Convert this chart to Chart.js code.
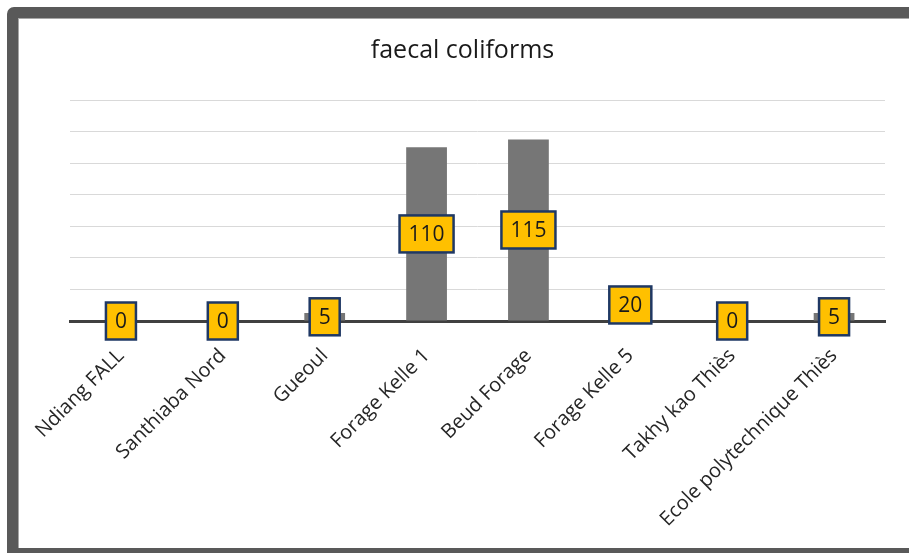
<!DOCTYPE html>
<html lang="en">
<head>
<meta charset="UTF-8">
<title>faecal coliforms</title>
<script src="https://cdn.jsdelivr.net/npm/chart.js"></script>
<style>
  body { margin: 0; background: #fff; width: 909px; height: 553px; overflow: hidden; position: relative; }
  #frame {
    position: absolute; left: 7px; top: 7px; width: 930px; height: 530px;
    border: 11px solid #595959; border-top-left-radius: 7px;
    box-shadow: inset 1px 1px 0 #a6a6a6;
  }
  #myChart { position: absolute; left: 18px; top: 18px; }
</style>
</head>
<body>
  <div id="frame"></div>
  <canvas id="myChart" width="889" height="530"></canvas>

  <script>
    // datos
    const sites = ['Ndiang FALL', 'Santhiaba Nord', 'Gueoul', 'Forage Kelle 1',
                   'Beud Forage', 'Forage Kelle 5', 'Takhy kao Thiès', 'Ecole polytechnique Thiès'];
    const coliforms = [0, 0, 5, 110, 115, 20, 0, 5];
    const yMax = 140;
    const yStep = 20;

    const font = "'Open Sans', sans-serif";

    // etiquetas amarillas centradas en cada barra
    const boxLabels = {
      id: 'boxLabels',
      afterDatasetsDraw(chart) {
        const ctx = chart.ctx;
        const meta = chart.getDatasetMeta(0);
        ctx.save();
        ctx.font = '21px ' + font;
        ctx.textAlign = 'center';
        ctx.textBaseline = 'middle';
        meta.data.forEach((bar, i) => {
          const txt = String(coliforms[i]);
          const cx = bar.x;
          const cy = (bar.y + bar.base) / 2;
          const w = ctx.measureText(txt).width + 18;
          const h = 37;
          ctx.fillStyle = '#ffc000';
          ctx.fillRect(cx - w / 2, cy - h / 2, w, h);
          ctx.lineWidth = 2.5;
          ctx.strokeStyle = '#1f3864';
          ctx.strokeRect(cx - w / 2, cy - h / 2, w, h);
          ctx.fillStyle = '#1a1a1a';
          ctx.fillText(txt, cx, cy + 1);
        });
        ctx.restore();
      }
    };

    const ctx = document.getElementById('myChart').getContext('2d');
    const chart = new Chart(ctx, {
      type: 'bar',
      data: {
        labels: sites,
        datasets: [{
          data: coliforms,
          backgroundColor: '#767676',
          categoryPercentage: 1,
          barPercentage: 0.4
        }]
      },
      options: {
        responsive: false,
        animation: false,
        layout: { padding: 0 },
        plugins: {
          legend: { display: false },
          tooltip: { enabled: false },
          title: {
            display: true,
            text: 'faecal coliforms',
            color: '#1a1a1a',
            font: { family: font, size: 25, weight: 'normal', lineHeight: 1.2 },
            padding: { top: 18, bottom: 34 }
          }
        },
        scales: {
          x: {
            grid: { display: false, drawTicks: false },
            border: { color: '#404040', width: 3 },
            ticks: {
              color: '#262626',
              font: { family: font, size: 20 },
              minRotation: 45, maxRotation: 45,
              padding: 23,
              autoSkip: false
            },
            afterFit(scale) {
              scale.height = 227;
              scale.paddingLeft = 0;
              scale.paddingRight = 0;
            }
          },
          y: {
            min: 0, max: yMax,
            ticks: { display: false, stepSize: yStep },
            grid: { color: '#d9d9d9', lineWidth: 1, drawTicks: false },
            border: { display: false },
            afterFit(scale) { scale.width = 52; }
          },
          // margen derecho vacio
          yRight: {
            position: 'right',
            ticks: { display: false },
            grid: { display: false, drawTicks: false },
            border: { display: false },
            afterFit(scale) { scale.width = 22; }
          }
        }
      },
      plugins: [boxLabels]
    });
  </script>
</body>
</html>
